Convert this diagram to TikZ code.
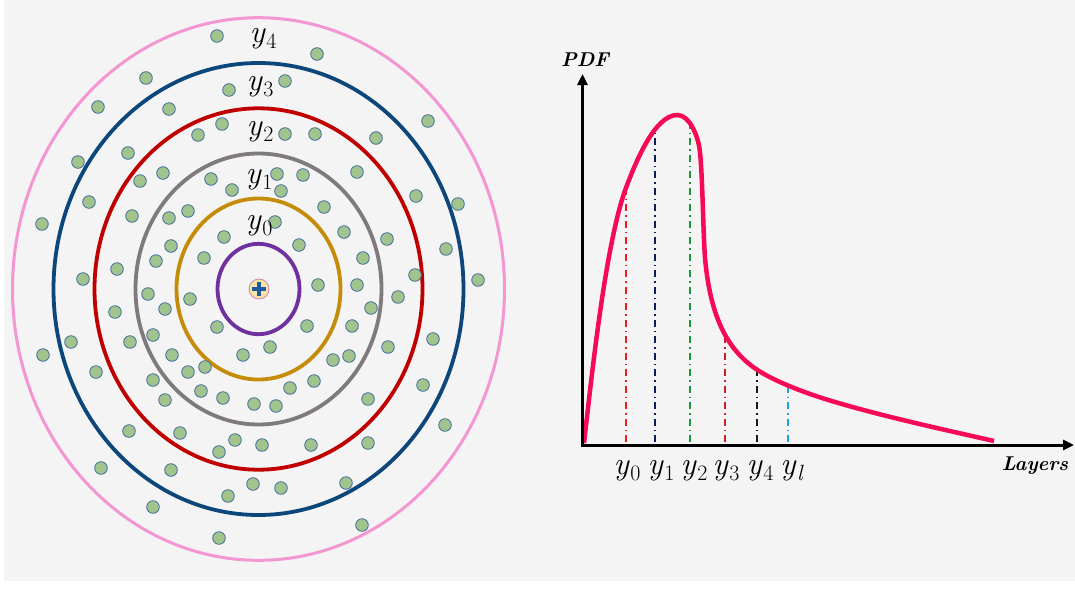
\documentclass[tikz,border=0pt]{standalone}
\usetikzlibrary{arrows.meta}
\definecolor{bg}{RGB}{244,244,244}
\definecolor{ringpurple}{RGB}{112,48,160}
\definecolor{ringorange}{RGB}{197,140,10}
\definecolor{ringgray}{RGB}{127,122,125}
\definecolor{ringred}{RGB}{192,0,0}
\definecolor{ringblue}{RGB}{12,70,122}
\definecolor{ringpink}{RGB}{243,150,210}
\definecolor{dotgreen}{RGB}{160,196,140}
\definecolor{dotedge}{RGB}{65,105,160}
\definecolor{curvecol}{RGB}{245,10,85}
\definecolor{plusblue}{RGB}{28,90,166}
\definecolor{iconfill}{RGB}{251,228,160}
\definecolor{iconedge}{RGB}{200,140,190}
\definecolor{dred}{RGB}{235,30,30}
\definecolor{dnavy}{RGB}{12,30,90}
\definecolor{dgreen}{RGB}{25,150,55}
\definecolor{dred2}{RGB}{200,35,40}
\definecolor{dblack}{RGB}{25,25,25}
\definecolor{dlblue}{RGB}{30,160,230}
\newcommand{\ysub}[1]{\textit{y}\kern0.5pt\raisebox{-5.5pt}{\fontsize{22}{22}\selectfont #1}}
\tikzset{
  ring/.style={line width=3.8pt},
  dotn/.style={circle, fill=dotgreen, draw=dotedge, line width=0.8pt, minimum size=12.6pt, inner sep=0pt},
  ylab/.style={inner sep=0pt, font=\fontsize{32}{34}\selectfont},
  axlab/.style={inner sep=0pt, font=\fontsize{20}{22}\selectfont\bfseries\itshape},
  axis/.style={line width=3pt, -{Triangle[length=11pt,width=10pt]}},
  dd/.style={line width=2pt, dash pattern=on 7pt off 4pt on 1.5pt off 4pt}
}
\begin{document}
\begin{tikzpicture}[x=1pt,y=-1pt]
\useasboundingbox (0,0) rectangle (1075,592);
\fill[white] (0,0) rectangle (1075,592);
\fill[bg] (4,0) rectangle (1075,581);

% rings
\draw[ring, ringpurple] (258.5,289) ellipse [x radius=41pt, y radius=45.2pt];
\draw[ring, ringorange] (258.5,289) ellipse [x radius=82pt, y radius=90.5pt];
\draw[ring, ringgray] (258.5,289) ellipse [x radius=123pt, y radius=135.5pt];
\draw[ring, ringred] (258.5,289) ellipse [x radius=164pt, y radius=180.7pt];
\draw[ring, ringblue] (258.5,289) ellipse [x radius=205pt, y radius=226pt];
\draw[line width=3pt, ringpink] (258.5,289) ellipse [x radius=246pt, y radius=271.3pt];

% dots
\foreach \px/\py [count=\i] in {217/36,146/78,98/107,229/90,169/109,222/124,198/135,128/153,78/162,140/181,
163/173,211/179,232/190,89/202,132/216,169/218,188/211,42/224,224/237,171/246,
156/261,204/258,117/269,83/279,148/294,190/299,115/312,165/309,217/327,71/342,
130/342,153/335,43/355,172/355,243/355,96/372,153/380,188/372,205/367,201/391,
165/400,223/398,254/404,129/431,180/433,235/440,262/445,219/452,101/468,171/470,
253/484,228/496,153/507,219/538,
317/54,285/81,428/121,285/134,315/134,376/138,277/174,303/175,357/172,281/191,
416/196,458/204,324/207,275/222,344/232,387/239,299/245,446/249,363/258,415/275,
478/280,318/285,357/285,398/297,371/308,307/326,352/326,433/339,270/347,388/347,
333/360,349/356,314/381,290/388,423/385,276/406,368/399,445/425,311/445,368/443,
281/488,346/483,362/525}
  \node[dotn] (d\i) at (\px,\py) {};

% centre icon
\node[circle, fill=iconfill, draw=iconedge, line width=0.9pt, minimum size=20pt, inner sep=0pt] (core) at (259,289) {};
\draw[plusblue, line width=4.2pt] ([yshift=-7pt]core.center) -- ([yshift=7pt]core.center);
\draw[plusblue, line width=4.2pt] ([xshift=-7pt]core.center) -- ([xshift=7pt]core.center);

% ring labels
\node[ylab] (l4) at (263,39) {\ysub{4}};
\node[ylab] (l3) at (260,87) {\ysub{3}};
\node[ylab] (l2) at (260,132) {\ysub{2}};
\node[ylab] (l1) at (259,180) {\ysub{1}};
\node[ylab] (l0) at (259,226) {\ysub{0}};

% graph
\coordinate (O) at (582.5,445);
\coordinate (Ytop) at (582.5,74);
\coordinate (Xend) at (1074,445);
\draw[dred, dd] (626,442) -- (626,188);
\draw[dnavy, dd] (655,442) -- (655,133);
\draw[dgreen, dd] (690,442) -- (690,126);
\draw[dred2, dd] (725,442) -- (725,336);
\draw[dblack, dd] (757,442) -- (757,369);
\draw[dlblue, dd] (787.5,442) -- (787.5,387);

\coordinate (c0) at (584,443);
\coordinate (c1) at (626.3,187);
\coordinate (c2) at (677.3,115);
\coordinate (c3) at (699.7,150);
\coordinate (c4) at (705,258);
\coordinate (c5) at (756.7,369.5);
\coordinate (c6) at (826.7,399.5);
\coordinate (c7) at (994,441);
\draw[curvecol, line width=4.5pt]
  (c0) .. controls (591,383.4) and (605.1,243.2) .. (c1)
       .. controls (636.2,160.8) and (655,115) .. (c2)
       .. controls (689.3,115) and (697.8,135.1) .. (c3)
       .. controls (702.5,172) and (703,230) .. (c4)
       .. controls (710.4,317.8) and (727.6,350) .. (c5)
       .. controls (775,381.7) and (805.7,393) .. (c6)
       .. controls (879.3,415.6) and (940.4,428.8) .. (c7);

\draw[axis] (O) -- (Ytop);
\draw[axis] ([xshift=-1.5pt]O) -- (Xend);

\node[axlab] (pdf) at (585,60) {PDF};
\node[axlab] (layers) at (1035,466) {Layers};
\node[ylab] (t0) at (627,471) {\ysub{0}};
\node[ylab] (t1) at (661,471) {\ysub{1}};
\node[ylab] (t2) at (694,471) {\ysub{2}};
\node[ylab] (t3) at (726,471) {\ysub{3}};
\node[ylab] (t4) at (760,471) {\ysub{4}};
\node[ylab] (tl) at (792,471) {\ysub{\textit{l}}};
\end{tikzpicture}
\end{document}
